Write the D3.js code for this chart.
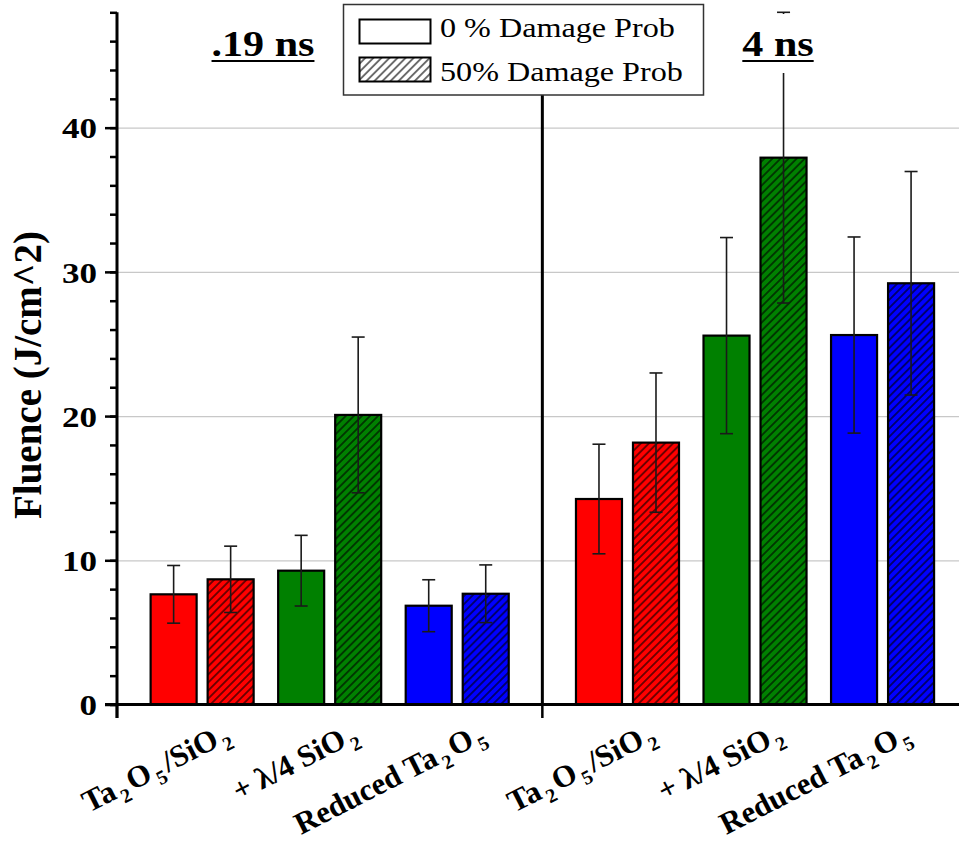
<!DOCTYPE html>
<html>
<head>
<meta charset="utf-8">
<script src="https://cdn.jsdelivr.net/npm/d3@7"></script>
<style>
  body { margin: 0; background: #fff; }
  svg { display: block; }
</style>
</head>
<body>
<svg id="chart" width="959" height="841"></svg>
<script>
// pulse lengths, sample types, damage-probability series
const groups = [".19 ns", "4 ns"];
const categories = ["Ta_2O_5/SiO_2", "+ λ/4 SiO_2", "Reduced Ta_2O_5"];
const series = ["0 % Damage Prob", "50% Damage Prob"];
const colors = ["#ff0000", "#008000", "#0000ff"];

// fluence (J/cm^2), one value per category
const short0 = [7.64, 9.28, 6.85];
const short50 = [8.68, 20.08, 7.68];
const shortErr0 = [2.0, 2.45, 1.8];
const shortErr50 = [2.3, 5.4, 2.0];

const long0 = [14.25, 25.58, 25.62];
const long50 = [18.16, 37.92, 29.21];
const longErr0 = [3.8, 6.8, 6.8];
const longErr50 = [4.83, 10.08, 7.75];

const majorTicks = [0, 10, 20, 30, 40];

const FONT = "Liberation Serif";
const SX = 1.17; // legend, titles and tick labels are drawn a bit wide

const width = 959;
const height = 841;
const plot = { left: 117, top: 12.3, bottom: 704.5, right: 967.7 };

const rows = [];
[[short0, short50, shortErr0, shortErr50], [long0, long50, longErr0, longErr50]].forEach(
  ([v0, v50, e0, e50], gi) => {
    categories.forEach((cat, ci) => {
      rows.push({ group: groups[gi], cat, ci, s: series[0], si: 0, value: v0[ci], err: e0[ci] });
      rows.push({ group: groups[gi], cat, ci, s: series[1], si: 1, value: v50[ci], err: e50[ci] });
    });
  },
);

const svg = d3.select("#chart").style("font-family", FONT);

const y = d3.scaleLinear().domain([0, 48]).range([plot.bottom, plot.top]);
const xGroup = d3.scaleBand().domain(groups).range([plot.left, plot.right]);
const xCat = d3
  .scaleBand()
  .domain(categories)
  .range([0, xGroup.bandwidth()])
  .paddingInner(0)
  .paddingOuter(0.1675);
const xSeries = d3
  .scaleBand()
  .domain(series)
  .range([0, xCat.bandwidth()])
  .paddingInner(0.193)
  .paddingOuter(0.215);

const barX = (d) => xGroup(d.group) + xCat(d.cat) + xSeries(d.s);

// hatch patterns
const defs = svg.append("defs");
colors.concat(["#ffffff"]).forEach((c, i) => {
  const p = defs
    .append("pattern")
    .attr("id", `hatch-${i}`)
    .attr("patternUnits", "userSpaceOnUse")
    .attr("width", 5.7)
    .attr("height", 5.7)
    .attr("patternTransform", "rotate(45)");
  p.append("rect").attr("width", 5.7).attr("height", 5.7).attr("fill", c);
  p.append("line")
    .attr("x1", 2.85).attr("x2", 2.85)
    .attr("y1", 0).attr("y2", 5.7)
    .attr("stroke", "#000")
    .attr("stroke-width", 1.1);
});

// gridlines
svg
  .append("g")
  .attr("transform", `translate(${plot.left},0)`)
  .call(d3.axisLeft(y).tickValues(majorTicks.slice(1)).tickFormat("").tickSize(-(width - plot.left)))
  .call((g) => g.select(".domain").remove())
  .call((g) => g.selectAll("line").attr("stroke", "#c8c8c8").attr("stroke-width", 1.2));

// bars
svg
  .append("g")
  .selectAll("rect")
  .data(rows)
  .join("rect")
  .attr("x", barX)
  .attr("y", (d) => y(d.value))
  .attr("width", xSeries.bandwidth())
  .attr("height", (d) => y(0) - y(d.value))
  .attr("fill", (d) => (d.si === 0 ? colors[d.ci] : `url(#hatch-${d.ci})`))
  .attr("stroke", "#000")
  .attr("stroke-width", 2.2);

// error bars
const err = svg.append("g").attr("stroke", "#1a1a1a").attr("stroke-width", 1.6);
rows.forEach((d) => {
  const cx = barX(d) + xSeries.bandwidth() / 2;
  const hi = y(d.value + d.err);
  const lo = y(d.value - d.err);
  err.append("line").attr("x1", cx).attr("x2", cx).attr("y1", hi).attr("y2", lo);
  err.append("line").attr("x1", cx - 6.5).attr("x2", cx + 6.5).attr("y1", hi).attr("y2", hi);
  err.append("line").attr("x1", cx - 6.5).attr("x2", cx + 6.5).attr("y1", lo).attr("y2", lo);
});

// y axis: minor + major ticks
svg
  .append("g")
  .attr("transform", `translate(${plot.left},0)`)
  .call(d3.axisLeft(y).tickValues(d3.range(0, 49, 2)).tickFormat("").tickSize(7))
  .call((g) => g.select(".domain").remove())
  .call((g) => g.selectAll("line").attr("stroke-width", 2.5));

const yAxis = svg
  .append("g")
  .attr("transform", `translate(${plot.left},0)`)
  .call(d3.axisLeft(y).tickValues(majorTicks).tickSize(12).tickFormat(d3.format("d")))
  .call((g) => g.select(".domain").remove())
  .call((g) => g.selectAll("line").attr("stroke-width", 2.5));

yAxis
  .attr("font-family", FONT)
  .selectAll("text")
  .attr("x", 0)
  .attr("dy", "0.34em")
  .attr("transform", `translate(-20,0) scale(${SX},1)`)
  .style("font-family", FONT)
  .style("font-size", "30px")
  .style("font-weight", "bold");

svg
  .append("line")
  .attr("x1", plot.left).attr("x2", plot.left)
  .attr("y1", plot.top).attr("y2", plot.bottom + 13.5)
  .attr("stroke", "#000")
  .attr("stroke-width", 3);

// x axis line and group ticks
svg
  .append("line")
  .attr("x1", plot.left - 12).attr("x2", width)
  .attr("y1", y(0)).attr("y2", y(0))
  .attr("stroke", "#000")
  .attr("stroke-width", 3);

svg
  .append("g")
  .selectAll("line")
  .data(groups)
  .join("line")
  .attr("x1", (g) => xGroup(g)).attr("x2", (g) => xGroup(g))
  .attr("y1", y(0)).attr("y2", y(0) + 13.5)
  .attr("stroke", "#000")
  .attr("stroke-width", 2.5);

// divider between pulse lengths
svg
  .append("line")
  .attr("x1", xGroup(groups[1])).attr("x2", xGroup(groups[1]))
  .attr("y1", plot.top).attr("y2", y(0))
  .attr("stroke", "#000")
  .attr("stroke-width", 3);

// category labels (rotated, with subscripts)
groups.forEach((g) => {
  categories.forEach((cat) => {
    const cx = xGroup(g) + xCat(cat) + xCat.bandwidth() / 2;
    const t = svg
      .append("text")
      .attr("transform", `translate(${cx + 30},740) rotate(-27)`)
      .attr("text-anchor", "end")
      .style("font-family", FONT)
      .style("font-weight", "bold")
      .style("font-size", "31px");
    const parts = cat.split(/_(\d)/);
    let down = false;
    parts.forEach((p, i) => {
      if (p === "") return;
      const sub = i % 2 === 1;
      const ts = t.append("tspan").text(p);
      if (sub && !down) {
        ts.attr("dy", 8).attr("dx", 3).style("font-size", "20px");
        down = true;
      } else if (sub) {
        ts.attr("dx", 3).style("font-size", "20px");
      } else if (down) {
        ts.attr("dy", -8).attr("dx", 3);
        down = false;
      }
    });
  });
});

// y axis title
svg
  .append("text")
  .attr("transform", "translate(41,375) rotate(-90)")
  .attr("text-anchor", "middle")
  .style("font-family", FONT)
  .style("font-weight", "bold")
  .style("font-size", "39px")
  .text("Fluence (J/cm^2)");

// legend
const legend = svg.append("g");
legend
  .append("rect")
  .attr("x", 343.5).attr("y", 4.5)
  .attr("width", 360).attr("height", 90.5)
  .attr("fill", "#fff")
  .attr("stroke", "#333")
  .attr("stroke-width", 1.5);

series.forEach((s, i) => {
  const yy = 19.5 + i * 38;
  legend
    .append("rect")
    .attr("x", 359.5).attr("y", yy)
    .attr("width", 71).attr("height", 24)
    .attr("fill", i === 0 ? "#fff" : "url(#hatch-3)")
    .attr("stroke", "#000")
    .attr("stroke-width", 2);
  legend
    .append("text")
    .attr("transform", `translate(440,${37 + i * 44}) scale(${SX},1)`)
    .style("font-family", FONT)
    .style("font-size", "27.5px")
    .text(s);
});

// pulse length titles, underlined, on white boxes
const titleX = [263, 778];
groups.forEach((g, i) => {
  const box = svg.append("rect").attr("fill", "#fff");
  const t = svg
    .append("text")
    .attr("transform", `translate(${titleX[i]},56) scale(${SX},1)`)
    .attr("text-anchor", "middle")
    .style("font-family", FONT)
    .style("font-weight", "bold")
    .style("font-size", "36px")
    .text(g);
  const w = t.node().getComputedTextLength() * SX;
  box
    .attr("x", titleX[i] - w / 2 - 8).attr("y", 14)
    .attr("width", w + 16).attr("height", 59);
  svg
    .append("line")
    .attr("x1", titleX[i] - w / 2).attr("x2", titleX[i] + w / 2)
    .attr("y1", 61).attr("y2", 61)
    .attr("stroke", "#000")
    .attr("stroke-width", 2.2);
});
</script>
</body>
</html>
